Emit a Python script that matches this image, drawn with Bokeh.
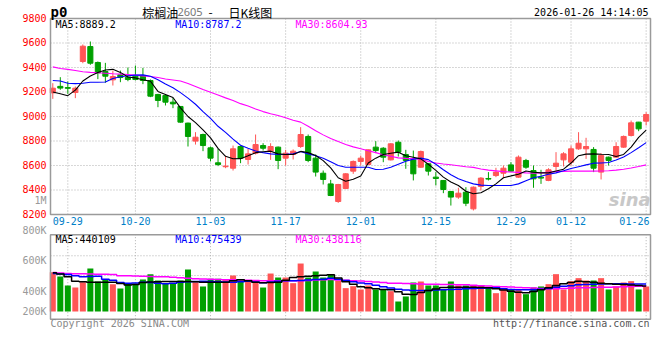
from bokeh.plotting import figure
from bokeh.models import ColumnDataSource, Label, Range1d
from bokeh.core.properties import value
from bokeh.embed import file_html
from bokeh.resources import INLINE

# ---------------- data ----------------
dates = ["09-25", "09-26", "09-29", "09-30",
         "10-09", "10-10", "10-13", "10-14", "10-15", "10-16", "10-17", "10-20", "10-21", "10-22",
         "10-23", "10-24", "10-27", "10-28", "10-29", "10-30", "10-31",
         "11-03", "11-04", "11-05", "11-06", "11-07", "11-10", "11-11", "11-12", "11-13", "11-14",
         "11-17", "11-18", "11-19", "11-20", "11-21", "11-24", "11-25", "11-26", "11-27", "11-28",
         "12-01", "12-02", "12-03", "12-04", "12-05", "12-08", "12-09", "12-10", "12-11", "12-12",
         "12-15", "12-16", "12-17", "12-18", "12-19", "12-22", "12-23", "12-24", "12-25", "12-26",
         "12-29", "12-30", "12-31",
         "01-05", "01-06", "01-07", "01-08", "01-09", "01-12", "01-13", "01-14", "01-15", "01-16",
         "01-19", "01-20", "01-21", "01-22", "01-23", "01-26"]

opens = [9193, 9246, 9236, 9196, 9449, 9571, 9441, 9367, 9299, 9340,
         9321, 9329, 9335, 9294, 9180, 9171, 9117, 9082, 8946, 8799,
         8853, 8744, 8622, 8590, 8578, 8755, 8649, 8701, 8763, 8717,
         8750, 8660, 8690, 8755, 8837, 8660, 8537, 8450, 8306, 8412,
         8554, 8633, 8608, 8750, 8741, 8646, 8790, 8690, 8646, 8586,
         8614, 8505, 8478, 8388, 8342, 8382, 8246, 8429, 8494, 8518,
         8537, 8605, 8505, 8641, 8559, 8505, 8478, 8592, 8646, 8627,
         8736, 8736, 8731, 8546, 8668, 8668, 8750, 8845, 8954, 8962]
highs = [9272, 9321, 9286, 9245, 9588, 9612, 9449, 9438, 9375, 9375,
         9400, 9416, 9397, 9302, 9185, 9175, 9152, 9085, 8950, 8872,
         8860, 8755, 8736, 8679, 8763, 8763, 8736, 8853, 8782, 8782,
         8755, 8728, 8731, 8913, 8853, 8690, 8559, 8483, 8450, 8537,
         8641, 8681, 8730, 8799, 8750, 8782, 8804, 8728, 8722, 8722,
         8619, 8546, 8480, 8390, 8418, 8423, 8429, 8505, 8546, 8581,
         8600, 8627, 8682, 8654, 8600, 8565, 8578, 8709, 8709, 8763,
         8872, 8826, 8750, 8701, 8673, 8790, 8845, 8967, 8956, 9035]
lows = [9144, 9218, 9185, 9150, 9435, 9422, 9305, 9275, 9253, 9280,
        9288, 9294, 9264, 9158, 9076, 9090, 9068, 8950, 8755, 8771,
        8717, 8633, 8595, 8578, 8559, 8619, 8608, 8690, 8722, 8646,
        8570, 8600, 8649, 8744, 8627, 8510, 8445, 8350, 8295, 8407,
        8532, 8600, 8605, 8701, 8627, 8641, 8673, 8573, 8478, 8581,
        8518, 8437, 8374, 8273, 8328, 8268, 8233, 8396, 8478, 8505,
        8497, 8551, 8499, 8573, 8418, 8450, 8472, 8559, 8592, 8600,
        8728, 8654, 8546, 8486, 8600, 8663, 8744, 8837, 8880, 8927]
closes = [9231, 9232, 9230, 9231, 9574, 9435, 9356, 9329, 9326, 9318,
          9302, 9302, 9294, 9166, 9131, 9117, 9103, 8954, 8837, 8831,
          8763, 8660, 8608, 8595, 8736, 8660, 8695, 8771, 8741, 8755,
          8641, 8701, 8717, 8853, 8641, 8546, 8486, 8355, 8445, 8532,
          8633, 8660, 8728, 8722, 8668, 8777, 8709, 8641, 8532, 8714,
          8554, 8494, 8404, 8342, 8374, 8292, 8423, 8497, 8489, 8546,
          8578, 8554, 8668, 8586, 8491, 8497, 8565, 8619, 8695, 8736,
          8782, 8755, 8578, 8682, 8641, 8755, 8837, 8948, 8899, 9016]

ma5 = [9200, 9185, 9170, 9215, 9290, 9330, 9360, 9380, 9385, 9360,
       9322, 9315, 9300, 9288, 9205, 9180, 9155, 9070, 9000, 8950,
       8890, 8825, 8740, 8675, 8655, 8656, 8680, 8705, 8712, 8717,
       8695, 8690, 8690, 8715, 8705, 8682, 8640, 8580, 8500, 8472,
       8488, 8515, 8620, 8660, 8690, 8700, 8709, 8680, 8668, 8654,
       8610, 8560, 8505, 8465, 8437, 8390, 8370, 8378, 8410, 8450,
       8500, 8515, 8528, 8555, 8545, 8540, 8540, 8555, 8570, 8620,
       8680, 8693, 8695, 8692, 8690, 8674, 8690, 8750, 8830, 8889]
ma10 = [9294, 9290, 9272, 9268, 9272, 9280, 9280, 9282, 9310, 9325,
        9333, 9338, 9340, 9329, 9300, 9265, 9235, 9195, 9150, 9100,
        9040, 8985, 8920, 8870, 8815, 8765, 8740, 8718, 8705, 8695,
        8690, 8692, 8695, 8715, 8695, 8680, 8660, 8630, 8600, 8586,
        8586, 8586, 8586, 8567, 8570, 8585, 8610, 8635, 8652, 8660,
        8648, 8610, 8565, 8525, 8492, 8470, 8450, 8440, 8437, 8437,
        8437, 8437, 8450, 8475, 8500, 8512, 8528, 8540, 8557, 8575,
        8590, 8605, 8619, 8620, 8625, 8645, 8670, 8705, 8745, 8787]
ma30 = [9405, 9392, 9385, 9375, 9365, 9360, 9357, 9353, 9349, 9346,
        9342, 9338, 9332, 9326, 9318, 9306, 9298, 9290, 9270, 9245,
        9220, 9198, 9176, 9152, 9131, 9105, 9085, 9062, 9040, 9022,
        9008, 8990, 8970, 8954, 8920, 8884, 8850, 8820, 8795, 8771,
        8752, 8736, 8720, 8705, 8688, 8676, 8662, 8658, 8656, 8652,
        8632, 8620, 8612, 8606, 8598, 8590, 8585, 8572, 8562, 8556,
        8550, 8547, 8544, 8540, 8537, 8540, 8545, 8550, 8552, 8554,
        8554, 8554, 8554, 8555, 8557, 8562, 8570, 8580, 8592, 8605]

# volume, thousands of lots
volumes = [680, 606, 450, 415, 507, 744, 519, 548, 473, 398,
           479, 479, 554, 646, 536, 490, 490, 536, 727, 507,
           433, 565, 565, 548, 623, 536, 536, 536, 415, 657,
           588, 588, 490, 830, 588, 692, 588, 634, 536, 404,
           438, 381, 450, 381, 381, 352, 173, 260, 502, 519,
           450, 450, 381, 519, 450, 450, 450, 450, 415, 317,
           381, 381, 381, 300, 415, 433, 473, 646, 381, 525,
           577, 536, 536, 577, 381, 433, 502, 525, 381, 433]
vol_ma5 = [669, 650, 600, 525, 515, 508, 508, 508, 505, 485,
           460, 465, 500, 510, 515, 519, 519, 519, 519, 515,
           508, 508, 508, 508, 530, 548, 530, 505, 496, 500,
           508, 540, 590, 600, 610, 617, 625, 634, 580, 515,
           470, 430, 410, 395, 380, 375, 340, 300, 294, 330,
           363, 390, 415, 421, 421, 421, 421, 415, 410, 395,
           370, 350, 335, 323, 345, 375, 410, 450, 479, 500,
           525, 515, 505, 490, 480, 470, 467, 460, 450, 440]
vol_ma10 = [658, 650, 640, 620, 600, 605, 611, 560, 540, 500,
            490, 495, 505, 500, 490, 480, 490, 505, 513, 518,
            525, 520, 515, 510, 508, 515, 525, 510, 496, 510,
            525, 530, 533, 536, 545, 552, 560, 575, 560, 536,
            515, 495, 479, 455, 430, 405, 385, 370, 365, 363,
            365, 370, 375, 380, 385, 392, 398, 404, 408, 410,
            395, 380, 375, 375, 375, 385, 400, 421, 435, 445,
            461, 468, 472, 476, 479, 479, 478, 477, 476, 475]
vol_ma30 = [675, 665, 658, 655, 652, 650, 646, 643, 640, 620,
            617, 613, 610, 606, 603, 600, 592, 584, 576, 568,
            562, 558, 554, 550, 548, 544, 540, 535, 531, 531,
            531, 531, 531, 532, 538, 543, 548, 553, 547, 540,
            533, 527, 520, 510, 500, 490, 487, 483, 480, 476,
            473, 470, 467, 465, 463, 461, 454, 446, 440, 433,
            428, 422, 417, 411, 405, 400, 395, 392, 398, 403,
            410, 413, 416, 419, 421, 425, 428, 431, 435, 438]

tick_dates = ["09-29", "10-20", "11-03", "11-17", "12-01", "12-15", "12-29", "01-12", "01-26"]
price_ticks = [8200, 8400, 8600, 8800, 9000, 9200, 9400, 9600, 9800]
vol_tick_text = ["800K", "600K", "400K", "200K"]
vol_tick_pos = [1401, 882, 346, 0]      # where the Sina volume labels sit
vol_grid = [623, 964]

title_name = "棕榈油"
title_code = "2605"
title_kind = "日K线图"
symbol = "p0"
timestamp = "2026-01-26 14:14:05"
price_legend = ["MA5:8889.2", "MA10:8787.2", "MA30:8604.93"]
vol_legend = ["MA5:440109", "MA10:475439", "MA30:438116"]

# ---------------- style / layout ----------------
UP = "#ff5555"
DOWN = "#00a000"
GRID = "#b0b0b0"
FRAME = "#9a9a9a"
MONO = "DejaVu Sans Mono"
CJK = "Noto Sans CJK SC"
MA_COLORS = ["#000000", "#0000ff", "#ff00ff"]

XL, XR = -0.306, 79.58            # panel left/right edges (slot units)
LAB_X = -0.84                     # right edge of the left labels
P_LO, P_HI = 8200, 9800           # price panel bounds
V_LO, V_HI = -133, 1327           # volume panel bounds

idx = list(range(len(dates)))
colors = [UP if c >= o else DOWN for o, c in zip(opens, closes)]
src = ColumnDataSource(dict(
    x=idx, o=opens, h=highs, l=lows, c=closes,
    top=[max(o, c) for o, c in zip(opens, closes)],
    bot=[min(o, c) for o, c in zip(opens, closes)],
    color=colors, vol=volumes))
grid_ticks = [dates.index(d) for d in tick_dates]

p = figure(width=660, height=356, x_range=Range1d(-6.963, 80.91),
           y_range=Range1d(9800 - 338 * 1600 / 196, 9800 + 18 * 1600 / 196),
           output_backend="svg", toolbar_location=None, title=None,
           x_axis_location=None, y_axis_location=None, min_border=0)
p.extra_y_ranges = {"vol": Range1d(-45 * 17.3, 311 * 17.3)}
p.grid.visible = False
p.outline_line_color = None
p.background_fill_color = "white"
p.border_fill_color = "white"

DOT = dict(line_color=GRID, line_dash="1 2", line_width=1)

# ---- price panel grid
p.segment(x0=[XL] * len(price_ticks), x1=[XR] * len(price_ticks),
          y0=price_ticks, y1=price_ticks, **DOT)
p.segment(x0=grid_ticks, x1=grid_ticks, y0=[P_LO] * len(grid_ticks),
          y1=[P_HI] * len(grid_ticks), **DOT)
# ---- volume panel grid
p.segment(x0=[XL] * len(vol_grid), x1=[XR] * len(vol_grid), y0=vol_grid, y1=vol_grid,
          y_range_name="vol", **DOT)
p.segment(x0=grid_ticks, x1=grid_ticks, y0=[V_LO] * len(grid_ticks),
          y1=[V_HI] * len(grid_ticks), y_range_name="vol", **DOT)

# ---- candles
p.segment(x0="x", y0="l", x1="x", y1="h", color="color", line_width=1, source=src)
p.vbar(x="x", width=0.68, top="top", bottom="bot", fill_color="color",
       line_color="color", line_width=1, source=src)
for series, col in zip((ma30, ma10, ma5), MA_COLORS[::-1]):
    p.line(idx, series, line_color=col, line_width=1.1)

# ---- volume
p.vbar(x="x", width=0.8, top="vol", bottom=0, fill_color="color", line_color=None,
       source=src, y_range_name="vol")
for series, col in zip((vol_ma30, vol_ma10, vol_ma5), MA_COLORS[::-1]):
    p.step(idx, series, mode="center", line_color=col, line_width=1.5, y_range_name="vol")

# ---- panel borders
p.quad(left=[XL], right=[XR], bottom=[P_LO], top=[P_HI], fill_color=None,
       line_color=FRAME, line_width=1.5)
p.quad(left=[XL], right=[XR], bottom=[V_LO], top=[V_HI], fill_color=None,
       line_color=FRAME, line_width=1.5, y_range_name="vol")

# ---- axis labels
p.text(x=[LAB_X] * len(price_ticks), y=price_ticks, text=[str(t) for t in price_ticks],
       text_color="#ff0000", text_font=value(MONO), text_font_size="10px",
       text_align="right", text_baseline="middle", y_offset=-1)
p.text(x=grid_ticks[:-1], y=[8143] * (len(grid_ticks) - 1), text=tick_dates[:-1],
       text_color="#0080c8", text_font=value(MONO), text_font_size="10px",
       text_align="center", text_baseline="middle")
p.text(x=[LAB_X] * len(vol_tick_text), y=vol_tick_pos, text=vol_tick_text,
       text_color="#999999", text_font=value(MONO), text_font_size="10px",
       text_align="right", text_baseline="middle", y_range_name="vol")


def lab(x, y, text, color="#000000", size="10px", font=MONO, align="left",
        style="normal", yr="default"):
    p.add_layout(Label(x=x, y=y, text=text, text_color=color, text_font_size=size,
                       text_font=font, text_align=align, text_baseline="middle",
                       text_font_style=style, y_range_name=yr))


lab(79.44, 8143, tick_dates[-1], color="#0080c8", align="right")
lab(LAB_X, 8314, "1M", color="#999999", align="right")

# header
lab(XL, 9857, symbol, size="14px", style="bold")
lab(11.9, 9853, title_name, font=CJK, size="12px")
lab(16.6, 9853, title_code, color="#777777", font="Noto Sans", size="11px")
lab(21.0, 9853, "-", font=CJK, size="12px", align="center")
lab(23.4, 9853, title_kind, font=CJK, size="12px")
lab(79.31, 9849, timestamp, align="right")

# legends
for txt, xx, col in zip(price_legend, (0.36, 16.3, 32.3), MA_COLORS):
    lab(xx, 9751, txt, color=col)
for txt, xx, col in zip(vol_legend, (0.36, 16.3, 32.3), MA_COLORS):
    lab(xx, 1254, txt, color=col, yr="vol")

# watermark and footer
lab(79.6, 8322, "sina", color="#c8c8c8", font="DejaVu Sans", size="18px",
    align="right", style="bold italic")
lab(XL, -208, "Copyright 2026 SINA.COM", color="#8a8a8a", yr="vol")
lab(79.44, -208, "http://finance.sina.com.cn", color="#555555", align="right", yr="vol")

open("out.html", "w").write(file_html(p, INLINE))
